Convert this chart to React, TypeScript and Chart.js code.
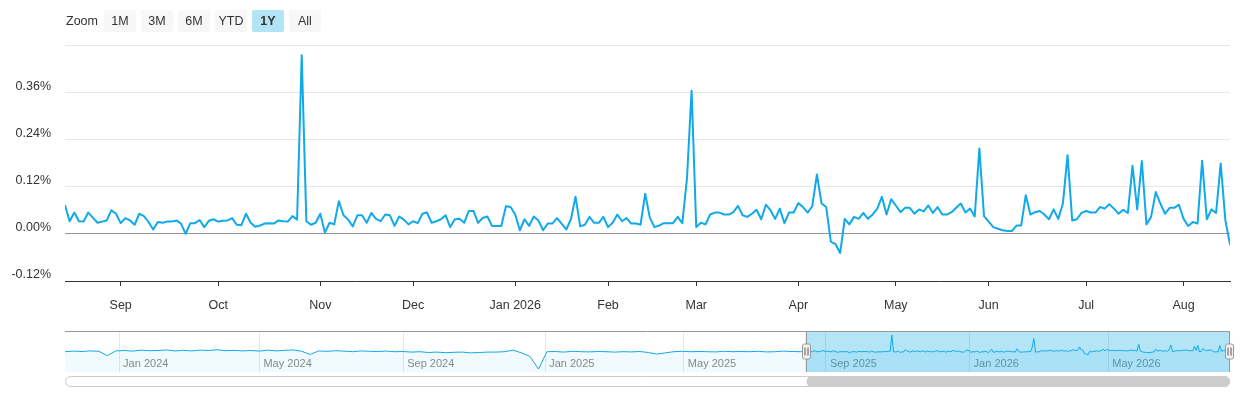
import React, { useEffect, useRef } from "react";
import { Chart, registerables } from "chart.js";

Chart.register(...registerables);

const FONT = "'Liberation Sans', Arial, Helvetica, sans-serif";

// Range selector
const rangeButtons = ["1M", "3M", "6M", "YTD", "1Y", "All"];
const selectedRange = "1Y";

// Main chart x-axis (trading-day index of first session of each month)
const monthLabels = ["Sep", "Oct", "Nov", "Dec", "Jan 2026", "Feb", "Mar", "Apr", "May", "Jun", "Jul", "Aug"];
const monthTickIndex = [12, 33, 55, 75, 97, 117, 136, 158, 179, 199, 220, 241];

// Main chart y-axis
const yTickValues = [-0.12, 0, 0.12, 0.24, 0.36, 0.48];
const yTickLabels = ["-0.12%", "0.00%", "0.12%", "0.24%", "0.36%", ""];

// Daily values (%) for the selected 1Y window, Aug 2025 – Aug 2026
const dailyValues = [
  0.072, 0.032, 0.054, 0.032, 0.031, 0.054, 0.041, 0.028, 0.031, 0.034,
  0.060, 0.051, 0.027, 0.040, 0.034, 0.023, 0.051, 0.045, 0.030, 0.011,
  0.030, 0.028, 0.031, 0.031, 0.034, 0.026, 0.000, 0.027, 0.027, 0.035,
  0.017, 0.033, 0.037, 0.031, 0.033, 0.034, 0.040, 0.023, 0.022, 0.051,
  0.028, 0.018,
  0.021, 0.026, 0.027, 0.026, 0.034, 0.032, 0.031, 0.045, 0.036, 0.454,
  0.032, 0.023, 0.028, 0.051, 0.003, 0.028, 0.024, 0.083, 0.047, 0.036,
  0.019, 0.047, 0.047, 0.028, 0.053, 0.038, 0.032, 0.049, 0.047, 0.020,
  0.044, 0.036, 0.024, 0.032, 0.027, 0.051, 0.054, 0.028, 0.032, 0.037,
  0.047, 0.017,
  0.037, 0.038, 0.028, 0.058, 0.058, 0.028, 0.040, 0.044, 0.020, 0.020,
  0.020, 0.070, 0.068, 0.049, 0.009, 0.037, 0.020, 0.044, 0.034, 0.009,
  0.026, 0.026, 0.040, 0.026, 0.011, 0.037, 0.094, 0.019, 0.023, 0.043,
  0.028, 0.028, 0.043, 0.017, 0.028, 0.049, 0.032, 0.040, 0.026, 0.026,
  0.023, 0.102,
  0.041, 0.017, 0.021, 0.027, 0.027, 0.027, 0.043, 0.027, 0.140, 0.364,
  0.017, 0.028, 0.024, 0.049, 0.054, 0.054, 0.049, 0.049, 0.055, 0.071,
  0.047, 0.043, 0.051, 0.061, 0.037, 0.074, 0.060, 0.038, 0.064, 0.027,
  0.054, 0.054, 0.078, 0.068, 0.054, 0.070, 0.151, 0.077, 0.068, -0.020,
  -0.026, -0.049,
  0.038, 0.024, 0.043, 0.038, 0.053, 0.038, 0.049, 0.064, 0.094, 0.049,
  0.088, 0.072, 0.055, 0.066, 0.066, 0.051, 0.062, 0.057, 0.072, 0.053,
  0.068, 0.049, 0.049, 0.055, 0.066, 0.077, 0.054, 0.064, 0.044, 0.217,
  0.045, 0.031, 0.017, 0.013, 0.009, 0.007, 0.007, 0.021, 0.021, 0.098,
  0.049, 0.055,
  0.058, 0.049, 0.037, 0.062, 0.038, 0.077, 0.200, 0.034, 0.037, 0.053,
  0.058, 0.054, 0.054, 0.068, 0.064, 0.075, 0.064, 0.051, 0.061, 0.053,
  0.173, 0.062, 0.185, 0.024, 0.043, 0.106, 0.077, 0.051, 0.066, 0.066,
  0.074, 0.038, 0.020, 0.030, 0.026, 0.186, 0.037, 0.062, 0.053, 0.179,
  0.034, -0.027,
];

// Older history shown in the navigator (weekly samples, Nov 2023 – Aug 2025)
const historyWeekly = [
  0.030, 0.045, 0.035, 0.050, 0.040,
  -0.070,
  0.050, 0.060, 0.045, 0.070, 0.055, 0.060, 0.075, 0.050,
  0.065, 0.050, 0.070, 0.060, 0.080, 0.055, 0.065, 0.050,
  0.060, 0.045, 0.070, 0.050, 0.065, 0.075, 0.040, -0.040,
  0.050, 0.040, 0.055, 0.045, 0.030, 0.050, 0.040, 0.035, 0.045,
  0.030, 0.035, 0.020, 0.030, 0.010, 0.020, 0.005, 0.015, 0.020, 0.000, 0.010, 0.020,
  0.020, 0.030, 0.070, 0.000, -0.090, -0.410,
  0.030, 0.035, 0.020, 0.040, 0.030, 0.025, 0.035, 0.030, 0.020,
  0.030, 0.025, 0.035, 0.010, -0.030, 0.000, 0.030, 0.040, 0.030, 0.035,
  0.030, 0.025, 0.040, 0.030, 0.035, 0.030, 0.040, 0.025, 0.030, 0.045, 0.035, 0.030,
];
const historyStep = 5; // trading days per weekly sample
const navMainOffset = 438; // trading-day index where the 1Y window starts

// Navigator axis
const navTickLabels = ["Jan 2024", "May 2024", "Sep 2024", "Jan 2025", "May 2025", "Sep 2025", "Jan 2026", "May 2026"];
const navTickIndex = [32, 115, 200, 284, 366, 450, 535, 617];
const navYMin = -0.485;
const navYMax = 0.555;

const LINE = "#10a9ea";

function roundRect(ctx: CanvasRenderingContext2D, x: number, y: number, w: number, h: number, r: number) {
  ctx.beginPath();
  ctx.moveTo(x + r, y);
  ctx.lineTo(x + w - r, y);
  ctx.arcTo(x + w, y, x + w, y + r, r);
  ctx.lineTo(x + w, y + h - r);
  ctx.arcTo(x + w, y + h, x + w - r, y + h, r);
  ctx.lineTo(x + r, y + h);
  ctx.arcTo(x, y + h, x, y + h - r, r);
  ctx.lineTo(x, y + r);
  ctx.arcTo(x, y, x + r, y, r);
  ctx.closePath();
}

export default function App() {
  const mainRef = useRef<HTMLCanvasElement>(null);
  const navRef = useRef<HTMLCanvasElement>(null);

  useEffect(() => {
    const tickFont = { family: FONT, size: 12.5 };
    const main = new Chart(mainRef.current!, {
      type: "line",
      data: {
        datasets: [
          {
            data: dailyValues.map((v, i) => ({ x: i, y: v })),
            borderColor: LINE,
            borderWidth: 2,
            pointRadius: 0,
            tension: 0,
            borderJoinStyle: "round",
            borderCapStyle: "round",
            fill: false,
          },
        ],
      },
      options: {
        animation: false,
        responsive: true,
        maintainAspectRatio: false,
        layout: { padding: { left: 0, right: 10, top: 45, bottom: 0 } },
        plugins: { legend: { display: false }, tooltip: { enabled: false } },
        scales: {
          x: {
            type: "linear",
            min: 0,
            max: dailyValues.length - 1,
            afterBuildTicks: (s: any) => {
              s.ticks = monthTickIndex.map((v) => ({ value: v }));
            },
            afterFit: (s: any) => {
              s.height = 39;
            },
            grid: { drawOnChartArea: false, drawTicks: true, tickLength: 5, tickColor: "#333", tickWidth: 1 },
            border: { display: true, color: "#333", width: 1 },
            ticks: {
              autoSkip: false,
              maxRotation: 0,
              padding: 12,
              color: "#333",
              font: tickFont,
              callback: (_v: any, i: number) => monthLabels[i],
            },
          },
          y: {
            type: "linear",
            min: yTickValues[0],
            max: yTickValues[yTickValues.length - 1],
            afterBuildTicks: (s: any) => {
              s.ticks = yTickValues.map((v) => ({ value: v }));
            },
            afterFit: (s: any) => {
              s.width = 65;
            },
            grid: {
              color: (ctx: any) => (ctx.tick && ctx.tick.value === 0 ? "#8c939c" : "#e6e6e6"),
              drawTicks: false,
              lineWidth: 1,
            },
            border: { display: false },
            ticks: {
              padding: 14,
              labelOffset: -6,
              color: "#333",
              font: tickFont,
              callback: (_v: any, i: number) => yTickLabels[i],
            },
          },
        },
      },
    });

    const selStart = navMainOffset;
    const selEnd = navMainOffset + dailyValues.length - 1;

    const navPlugin = {
      id: "navDecor",
      beforeDatasetsDraw(chart: any) {
        const { ctx, chartArea, scales } = chart;
        const x = scales.x;
        ctx.save();
        ctx.font = `11px ${FONT}`;
        ctx.fillStyle = "#888";
        ctx.textAlign = "left";
        ctx.textBaseline = "middle";
        navTickIndex.forEach((v, i) => {
          ctx.fillText(navTickLabels[i], x.getPixelForValue(v) + 4, chartArea.top + 33);
        });
        const xs = x.getPixelForValue(selStart);
        const xe = x.getPixelForValue(selEnd);
        ctx.fillStyle = "rgba(2,168,225,0.3)";
        ctx.fillRect(xs, chartArea.top, xe - xs, chartArea.bottom - chartArea.top);
        ctx.restore();
      },
      afterDatasetsDraw(chart: any) {
        const { ctx, chartArea, scales } = chart;
        const x = scales.x;
        const xs = Math.round(x.getPixelForValue(selStart)) + 0.5;
        const xe = Math.round(x.getPixelForValue(selEnd)) - 0.5;
        const top = chartArea.top + 0.5;
        ctx.save();
        ctx.strokeStyle = "#999";
        ctx.lineWidth = 1;
        ctx.beginPath();
        ctx.moveTo(chartArea.left, top);
        ctx.lineTo(chartArea.right, top);
        ctx.moveTo(xs, top);
        ctx.lineTo(xs, chartArea.bottom);
        ctx.moveTo(xe, top);
        ctx.lineTo(xe, chartArea.bottom);
        ctx.stroke();
        // handles
        const cy = chartArea.top + 20.5;
        [xs, xe].forEach((hx) => {
          roundRect(ctx, hx - 4, cy - 7.5, 8, 15, 2);
          ctx.fillStyle = "#f2f2f2";
          ctx.fill();
          ctx.strokeStyle = "#999";
          ctx.stroke();
          ctx.beginPath();
          ctx.moveTo(hx - 1.5, cy - 4);
          ctx.lineTo(hx - 1.5, cy + 4);
          ctx.moveTo(hx + 1.5, cy - 4);
          ctx.lineTo(hx + 1.5, cy + 4);
          ctx.strokeStyle = "#555";
          ctx.stroke();
        });
        // scrollbar
        const sy = chartArea.bottom + 4;
        roundRect(ctx, chartArea.left + 0.5, sy + 0.5, chartArea.right - chartArea.left - 1, 10, 5);
        ctx.fillStyle = "#fff";
        ctx.fill();
        ctx.strokeStyle = "#ccc";
        ctx.stroke();
        roundRect(ctx, x.getPixelForValue(selStart) + 1, sy, x.getPixelForValue(selEnd) - x.getPixelForValue(selStart) - 1, 11, 5.5);
        ctx.fillStyle = "#cccccc";
        ctx.fill();
        ctx.restore();
      },
    };

    const navData = historyWeekly
      .map((v, i) => ({ x: i * historyStep, y: v }))
      .concat(dailyValues.map((v, i) => ({ x: navMainOffset + i, y: v })));

    const nav = new Chart(navRef.current!, {
      type: "line",
      data: {
        datasets: [
          {
            data: navData,
            borderColor: LINE,
            borderWidth: 1,
            pointRadius: 0,
            tension: 0,
            fill: "start",
            backgroundColor: "rgba(16,169,234,0.06)",
          },
        ],
      },
      plugins: [navPlugin],
      options: {
        animation: false,
        responsive: true,
        maintainAspectRatio: false,
        layout: { padding: { left: 65, right: 10, top: 6, bottom: 23 } },
        plugins: { legend: { display: false }, tooltip: { enabled: false } },
        scales: {
          x: {
            type: "linear",
            min: 0,
            max: navMainOffset + dailyValues.length - 1,
            afterBuildTicks: (s: any) => {
              s.ticks = navTickIndex.map((v) => ({ value: v }));
            },
            afterFit: (s: any) => {
              s.height = 0;
            },
            grid: { color: "#e6e6e6", drawTicks: false, lineWidth: 1 },
            border: { display: false },
            ticks: { display: false },
          },
          y: { type: "linear", display: false, min: navYMin, max: navYMax },
        },
      },
    } as any);

    return () => {
      main.destroy();
      nav.destroy();
    };
  }, []);

  return (
    <div style={{ position: "absolute", left: 0, top: 0, width: 1240, height: 400, background: "#fff", fontFamily: FONT }}>
      <div style={{ position: "absolute", left: 0, top: 0, width: 1240, height: 320 }}>
        <canvas ref={mainRef} />
      </div>
      <div style={{ position: "absolute", left: 0, top: 325, width: 1240, height: 70 }}>
        <canvas ref={navRef} />
      </div>
      <div style={{ position: "absolute", left: 66, top: 10, height: 22, display: "flex", alignItems: "center" }}>
        <span style={{ fontSize: 12.5, color: "#333", marginRight: 6 }}>Zoom</span>
        {rangeButtons.map((b, i) => (
          <div
            key={b}
            style={{
              width: 32,
              height: 22,
              lineHeight: "22px",
              textAlign: "center",
              marginLeft: i ? 5 : 0,
              background: b === selectedRange ? "#b3e4f6" : "#f7f7f7",
              borderRadius: 2,
              fontSize: 12.5,
              color: "#333",
              fontWeight: b === selectedRange ? 700 : 400,
            }}
          >
            {b}
          </div>
        ))}
      </div>
    </div>
  );
}
